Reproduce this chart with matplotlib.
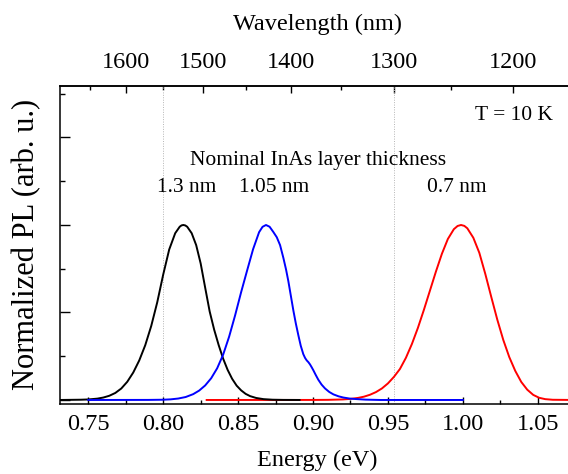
import matplotlib
matplotlib.use("Agg")
import matplotlib.pyplot as plt
from matplotlib.ticker import MultipleLocator, FixedLocator, NullFormatter, FormatStrFormatter

plt.rcParams['font.family'] = ['Liberation Serif', 'DejaVu Serif']

HC = 1239.84  # eV*nm

# ---- data: energy (eV), normalized PL ----
black_E = [0.731, 0.745, 0.750, 0.756, 0.760, 0.764, 0.768, 0.772, 0.776, 0.780,
           0.784, 0.788, 0.792, 0.796, 0.800, 0.804, 0.808, 0.811, 0.8122, 0.8134,
           0.8147, 0.816, 0.819, 0.822, 0.825, 0.828, 0.831, 0.834, 0.837, 0.840,
           0.843, 0.846, 0.849, 0.852, 0.855, 0.858, 0.862, 0.867, 0.873, 0.880, 0.891]
black_I = [0.000, 0.0015, 0.003, 0.0076, 0.0139, 0.024, 0.040, 0.0655, 0.104, 0.157,
           0.226, 0.313, 0.423, 0.558, 0.717, 0.860, 0.953, 0.990, 0.9976, 1.000,
           0.9975, 0.990, 0.953, 0.885, 0.780, 0.642, 0.506, 0.402, 0.314, 0.236,
           0.172, 0.121, 0.082, 0.055, 0.035, 0.022, 0.0115, 0.0047, 0.0015, 0.0004, 0.000]

blue_E = [0.750, 0.790, 0.800, 0.805, 0.810, 0.815, 0.820, 0.824, 0.828, 0.832,
          0.836, 0.840, 0.844, 0.848, 0.852, 0.856, 0.860, 0.864, 0.8663, 0.8686,
          0.8710, 0.8735, 0.8758, 0.8780, 0.8802, 0.8820, 0.8835, 0.8852, 0.8869,
          0.8885, 0.8902, 0.8918, 0.8935, 0.8947, 0.8958, 0.8969, 0.8980, 0.8991,
          0.9002, 0.9018, 0.9035, 0.9057, 0.9080, 0.9108, 0.9136, 0.9170, 0.9202,
          0.9245, 0.9292, 0.9350, 0.9450, 1.000]
blue_I = [0.000, 0.0004, 0.0015, 0.0036, 0.0082, 0.0169, 0.0333, 0.0537, 0.083, 0.124,
          0.181, 0.259, 0.362, 0.484, 0.616, 0.740, 0.862, 0.959, 0.9895, 1.000,
          0.990, 0.960, 0.930, 0.885, 0.812, 0.745, 0.680, 0.595, 0.510,
          0.438, 0.370, 0.310, 0.262, 0.240, 0.226, 0.216, 0.203, 0.187,
          0.170, 0.143, 0.116, 0.088, 0.066, 0.046, 0.032, 0.021, 0.014,
          0.008, 0.005, 0.002, 0.000, 0.000]

red_E = [0.829, 0.900, 0.910, 0.920, 0.925, 0.930, 0.934, 0.938, 0.942, 0.946,
         0.950, 0.954, 0.958, 0.962, 0.966, 0.970, 0.974, 0.978, 0.982, 0.986,
         0.990, 0.994, 0.9965, 0.9988, 1.001, 1.003, 1.007, 1.011, 1.015, 1.019,
         1.023, 1.027, 1.031, 1.035, 1.039, 1.043, 1.047, 1.051, 1.055, 1.060, 1.075]
red_I = [0.000, 0.0002, 0.0008, 0.0031, 0.0061, 0.0117, 0.0189, 0.0298, 0.045, 0.066,
         0.0947, 0.132, 0.177, 0.241, 0.320, 0.412, 0.515, 0.624, 0.733, 0.835,
         0.920, 0.976, 0.9944, 1.000, 0.9948, 0.981, 0.927, 0.841, 0.720, 0.588,
         0.459, 0.343, 0.245, 0.166, 0.103, 0.0588, 0.029, 0.0124, 0.0047, 0.0012, 0.000]

# top axis ticks (nm) and reference wavelengths (dotted lines)
wl_major = [1600, 1500, 1400, 1300, 1200]
wl_minor = [1650, 1550, 1450, 1350, 1250, 1150]
ref_wl = [1550, 1300]

labels = ["1.3 nm", "1.05 nm", "0.7 nm"]
label_E = [0.8157, 0.874, 0.996]

fig = plt.figure(figsize=(5.68, 4.74), dpi=100)
ax = fig.add_axes([60/568, 1 - 404/474, (575.2 - 60)/568, (404 - 85.7)/474])

for wl in ref_wl:
    ax.axvline(HC / wl, color='#b5b5b5', lw=0.7, ls=(0, (1, 1.5)), zorder=1)

ax.plot(red_E, red_I, color='#ff0000', lw=1.4, zorder=3)
ax.plot(black_E, black_I, color='black', lw=1.4, zorder=4)
ax.plot(blue_E, blue_I, color='#0000ff', lw=1.4, zorder=5)

ax.set_xlim(0.7311, 1.075)
ax.set_ylim(-0.023, 1.796)

ax.xaxis.set_major_locator(MultipleLocator(0.05))
ax.xaxis.set_minor_locator(MultipleLocator(0.025))
ax.yaxis.set_major_locator(MultipleLocator(0.5))
ax.yaxis.set_minor_locator(MultipleLocator(0.25))
ax.yaxis.set_major_formatter(NullFormatter())
ax.xaxis.set_major_formatter(FormatStrFormatter('%.2f'))

ax.tick_params(axis='x', which='major', direction='in', length=5, width=1.0,
               labelsize=17.5, pad=7, top=False)
ax.tick_params(axis='x', which='minor', direction='in', length=3, width=1.0, top=False)
ax.tick_params(axis='y', which='major', direction='in', length=7, width=1.0, right=False)
ax.tick_params(axis='y', which='minor', direction='in', length=3.5, width=1.0, right=False)

for s in ax.spines.values():
    s.set_linewidth(1.1)
ax.spines['right'].set_visible(False)

ax.set_xlabel("Energy (eV)", fontsize=17.5, labelpad=11)
ax.set_ylabel("Normalized PL (arb. u.)", fontsize=22, labelpad=10)

sec = ax.secondary_xaxis('top', functions=(lambda e: HC / e, lambda l: HC / l))
sec.xaxis.set_major_locator(FixedLocator(wl_major))
sec.xaxis.set_minor_locator(FixedLocator(wl_minor))
sec.tick_params(axis='x', which='major', direction='in', length=5, width=1.0,
                labelsize=17.5, pad=9)
sec.tick_params(axis='x', which='minor', direction='in', length=3, width=1.0)
sec.spines['top'].set_linewidth(1.1)
sec.set_xlabel("Wavelength (nm)", fontsize=17.5, labelpad=16)

ax.text(0.9033, 1.371, "Nominal InAs layer thickness", fontsize=15.5,
        ha='center', va='center')
for lab, e in zip(labels, label_E):
    ax.text(e, 1.217, lab, fontsize=15.5, ha='center', va='center')
ax.text(1.0342, 1.623, "T = 10 K", fontsize=15.5, ha='center', va='center')

fig.savefig("out.png", dpi=100)
